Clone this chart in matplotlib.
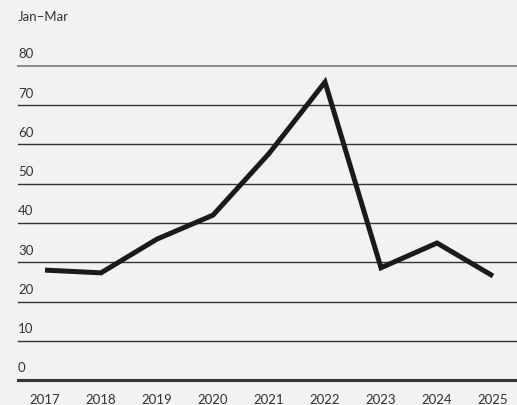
import matplotlib
matplotlib.use("Agg")
import matplotlib.pyplot as plt

years = [2017, 2018, 2019, 2020, 2021, 2022, 2023, 2024, 2025]
values = [28.0, 27.3, 35.9, 42.0, 57.7, 75.9, 28.6, 34.9, 26.5]
yticks = [0, 10, 20, 30, 40, 50, 60, 70, 80]
title = "Jan\u2013Mar"

plt.rcParams['font.family'] = ['Lato', 'DejaVu Sans']
bg = '#f2f2f2'
W, H = 517, 405
fig = plt.figure(figsize=(W / 100, H / 100), dpi=100, facecolor=bg)
left = 18 / W
bottom = (H - 380) / H
top = (H - 66) / H
ax = fig.add_axes([left, bottom, 1 - left, top - bottom], facecolor=bg)
ax.set_ylim(0, 80)
ax.set_xlim(2017 - 27 / 56, 2025 + 24 / 56)

for t in yticks:
    if t == 0:
        ax.axhline(t, color='#333333', lw=2.2, clip_on=False, zorder=1)
    elif t == 80:
        ax.axhline(t, color='#8a8a8a', lw=1.4, clip_on=False, zorder=1)
    else:
        ax.axhline(t, color='#333333', lw=1.0, clip_on=False, zorder=1)
    ax.annotate(str(t), xy=(0, t), xycoords=('axes fraction', 'data'),
                xytext=(0, 4), textcoords='offset points', ha='left', va='bottom',
                fontsize=9.5, color='#333333')

ax.plot(years, values, color='#1a1a1a', lw=3.6, solid_joinstyle='miter',
        solid_capstyle='butt', zorder=3, clip_on=False)

ax.set_xticks(years)
ax.set_xticklabels([str(y) for y in years], fontsize=9.5, color='#333333')
ax.tick_params(axis='x', length=0, pad=10)
ax.set_yticks([])
for s in ax.spines.values():
    s.set_visible(False)

fig.text(left, (H - 17) / H, title, ha='left', va='center', fontsize=9.5, color='#333333')

fig.savefig('out.png', dpi=100, facecolor=bg)
